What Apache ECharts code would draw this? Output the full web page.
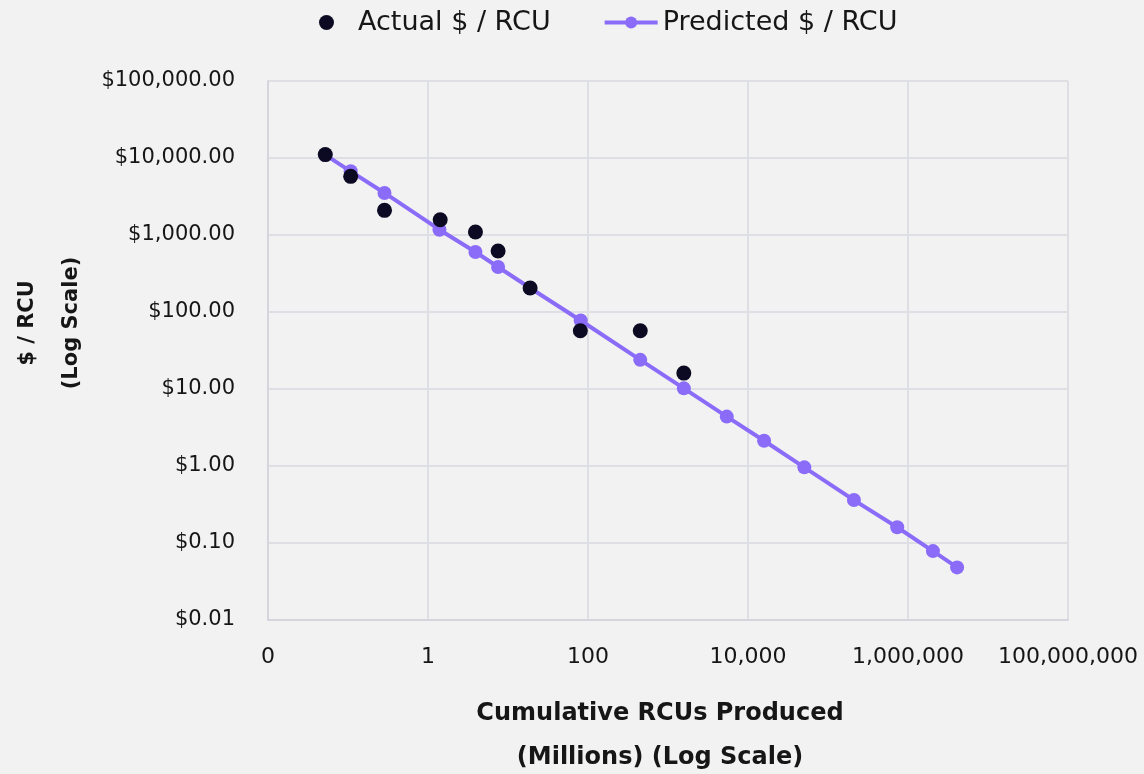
<!DOCTYPE html>
<html>
<head>
<meta charset="utf-8">
<script src="https://cdn.jsdelivr.net/npm/echarts@6/dist/echarts.min.js"></script>
<style>
  html, body { margin: 0; padding: 0; background: #f2f2f2; }
  #main { width: 1144px; height: 774px; }
</style>
</head>
<body>
<div id="main"></div>
<script>
// values (log-log chart)
const actualX = [0.052, 0.108, 0.286, 1.42, 3.92, 7.52, 18.9, 80.2, 450, 1577];
const actualY = [11070, 5780, 2089, 1581, 1094, 619, 205, 57, 57, 16.1];
const predX = [0.052, 0.108, 0.286, 1.39, 3.92, 7.52, 18.9, 81, 450, 1577, 5430, 15890, 50600, 211000, 733000, 2050000, 4110000];
const predY = [11000, 6715, 3516, 1172, 601, 384, 205, 77.6, 23.9, 10.2, 4.38, 2.13, 0.96, 0.361, 0.160, 0.0785, 0.0482];

const seriesNames = ['Actual $ / RCU', 'Predicted $ / RCU'];
const xTitle = 'Cumulative RCUs Produced\n(Millions) (Log Scale)';
const yTitle = '$ / RCU\n(Log Scale)';

const font = 'DejaVu Sans';
const textColor = '#161616';
const gridColor = '#dedee5';
const purple = '#8a6cf9';

const chart = echarts.init(document.getElementById('main'));

const option = {
    backgroundColor: '#f2f2f2',
    textStyle: { fontFamily: font, color: textColor },
    legend: {
        data: seriesNames,
        left: 314,
        top: 4,
        itemWidth: 53,
        itemHeight: 15,
        itemGap: 52,
        lineStyle: { width: 4 },
        textStyle: { fontSize: 27, color: textColor, fontFamily: font }
    },
    grid: { left: 268, right: 76, top: 81, bottom: 154 },
    xAxis: {
        type: 'log',
        logBase: 10,
        min: 0.01,
        max: 100000000,
        interval: 2,
        splitNumber: 5,
        axisLine: { show: true, lineStyle: { color: '#d5d5dd', width: 2 } },
        axisTick: { show: false },
        axisLabel: {
            fontSize: 22,
            color: textColor,
            margin: 26,
            formatter: v => v < 1 ? '0' : Math.round(v).toLocaleString('en-US')
        },
        splitLine: { show: true, lineStyle: { color: gridColor, width: 2 } }
    },
    yAxis: {
        type: 'log',
        logBase: 10,
        min: 0.01,
        max: 100000,
        interval: 1,
        axisLine: { show: true, lineStyle: { color: '#d5d5dd', width: 2 } },
        axisTick: { show: false },
        axisLabel: {
            fontSize: 21,
            color: textColor,
            margin: 33,
            formatter: v => '$' + v.toLocaleString('en-US', { minimumFractionDigits: 2, maximumFractionDigits: 2 })
        },
        splitLine: { show: true, lineStyle: { color: gridColor, width: 2 } }
    },
    graphic: [
        {
            type: 'text',
            x: 660,
            y: 692,
            style: {
                text: xTitle,
                fontFamily: font,
                fontSize: 24,
                fontWeight: 'bold',
                fill: textColor,
                align: 'center',
                lineHeight: 44
            }
        },
        {
            type: 'text',
            x: 50,
            y: 323,
            rotation: Math.PI / 2,
            style: {
                text: yTitle,
                fontFamily: font,
                fontSize: 21,
                fontWeight: 'bold',
                fill: textColor,
                align: 'center',
                verticalAlign: 'middle',
                lineHeight: 44
            }
        }
    ],
    series: [
        {
            name: seriesNames[0],
            type: 'scatter',
            z: 5,
            symbolSize: 15,
            itemStyle: { color: '#0c0a22', opacity: 1 },
            data: actualX.map((x, i) => [x, actualY[i]])
        },
        {
            name: seriesNames[1],
            type: 'line',
            z: 3,
            symbol: 'circle',
            symbolSize: 14,
            lineStyle: { color: purple, width: 4 },
            itemStyle: { color: purple },
            data: predX.map((x, i) => [x, predY[i]])
        }
    ]
};
option && chart.setOption(option);
window.onresize = () => { chart.resize(); };
</script>
</body>
</html>
